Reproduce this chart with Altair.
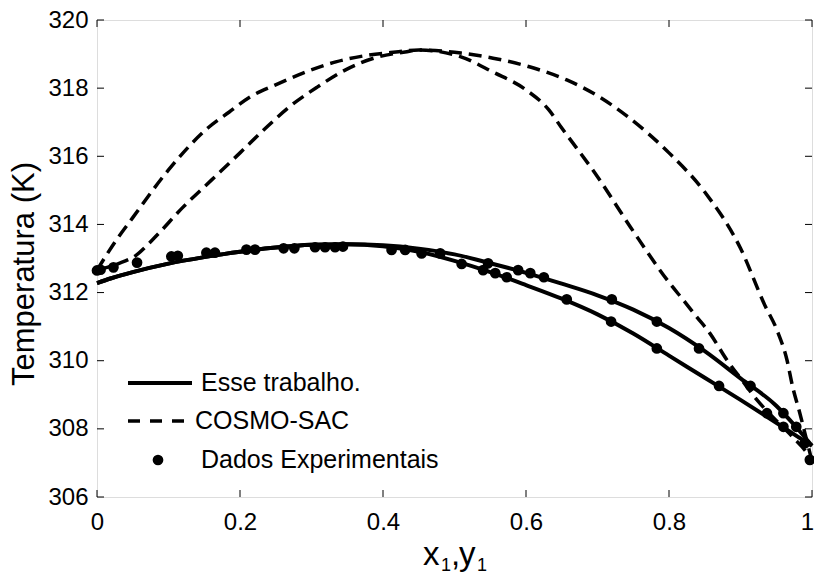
import altair as alt
import pandas as pd

# ---- dados ---------------------------------------------------------------
# Esse trabalho: curva de bolha (T-x) e curva de orvalho (T-y)
modelo_comp = [0.00, 0.02, 0.05, 0.10, 0.15, 0.20, 0.25, 0.30, 0.35, 0.40,
               0.45, 0.50, 0.55, 0.60, 0.65, 0.70, 0.75, 0.80, 0.85, 0.90,
               0.95, 0.975, 1.00]
modelo_T_bolha = [312.28, 312.42, 312.60, 312.85, 313.04, 313.20, 313.32, 313.40,
                  313.42, 313.36, 313.20, 312.93, 312.60, 312.22, 311.82, 311.36,
                  310.80, 310.15, 309.50, 308.85, 308.18, 307.84, 307.50]
modelo_T_orvalho = [312.28, 312.42, 312.60, 312.85, 313.04, 313.20, 313.32, 313.40,
                    313.42, 313.39, 313.29, 313.12, 312.86, 312.58, 312.26, 311.92,
                    311.50, 310.96, 310.28, 309.48, 308.68, 308.12, 307.50]

# COSMO-SAC: curva externa e curva interna
cosmo_ext_comp = [0.000, 0.027, 0.050, 0.100, 0.155, 0.185, 0.214, 0.249, 0.288,
                  0.334, 0.380, 0.418, 0.450, 0.509, 0.554, 0.606, 0.657, 0.703,
                  0.743, 0.800, 0.850, 0.900, 0.934, 0.951, 0.965, 0.973, 0.983,
                  0.990, 1.000]
cosmo_ext_T = [312.66, 313.54, 314.20, 315.60, 316.83, 317.30, 317.74, 318.09, 318.44,
               318.77, 318.97, 319.06, 319.12, 319.03, 318.88, 318.62, 318.24, 317.74,
               317.15, 316.10, 314.95, 313.30, 311.63, 310.90, 310.02, 309.23, 308.46,
               307.88, 307.05]
cosmo_int_comp = [0.000, 0.030, 0.055, 0.080, 0.120, 0.160, 0.200, 0.236, 0.269,
                  0.308, 0.347, 0.392, 0.431, 0.450, 0.509, 0.554, 0.600, 0.632,
                  0.649, 0.700, 0.750, 0.800, 0.820, 0.839, 0.857, 0.881, 0.902,
                  0.923, 0.945, 0.973, 0.993, 1.000]
cosmo_int_T = [312.66, 312.85, 313.10, 313.60, 314.50, 315.30, 316.10, 316.83, 317.45,
               318.03, 318.53, 318.91, 319.06, 319.12, 318.92, 318.47, 317.95, 317.36,
               316.86, 315.40, 313.80, 312.30, 311.78, 311.28, 310.81, 310.02, 309.43,
               308.85, 308.35, 307.76, 307.29, 307.05]

# Dados experimentais (x1 e y1 com a temperatura correspondente)
exp_comp = [0.000, 0.005, 0.023, 0.056, 0.104, 0.113, 0.153, 0.165, 0.209, 0.221,
            0.261, 0.276, 0.305, 0.319, 0.333, 0.344, 0.412, 0.431, 0.454, 0.480,
            0.510, 0.547, 0.540, 0.589, 0.557, 0.606, 0.573, 0.625, 0.657, 0.720,
            0.719, 0.783, 0.783, 0.842, 0.870, 0.914, 0.937, 0.960, 0.960, 0.978,
            0.990, 0.997]
exp_T = [312.65, 312.67, 312.74, 312.88, 313.06, 313.08, 313.17, 313.17, 313.26, 313.26,
         313.30, 313.30, 313.33, 313.33, 313.33, 313.35, 313.25, 313.25, 313.15, 313.15,
         312.84, 312.86, 312.66, 312.66, 312.57, 312.57, 312.45, 312.45, 311.80, 311.80,
         311.15, 311.15, 310.36, 310.36, 309.26, 309.26, 308.46, 308.46, 308.06, 308.06,
         307.58, 307.09]

x_ticks = [0, 0.2, 0.4, 0.6, 0.8, 1]
y_ticks = [306, 308, 310, 312, 314, 316, 318, 320]

# ---- tabelas ---------------------------------------------------------------
def curva(nome, comp, temp):
    return pd.DataFrame({"comp": comp, "T": temp, "curva": nome,
                         "ordem": list(range(len(comp)))})

modelo_df = pd.concat([curva("bolha", modelo_comp, modelo_T_bolha),
                       curva("orvalho", modelo_comp, modelo_T_orvalho)])
cosmo_df = pd.concat([curva("externa", cosmo_ext_comp, cosmo_ext_T),
                      curva("interna", cosmo_int_comp, cosmo_int_T)])
exp_df = pd.DataFrame({"comp": exp_comp, "T": exp_T})
xt_df = pd.DataFrame({"v": x_ticks})
yt_df = pd.DataFrame({"v": y_ticks})

W, H = 715, 477
FONT = "Liberation Sans"

xs = alt.Scale(domain=[0, 1], nice=False, zero=False)
ys = alt.Scale(domain=[306, 320], nice=False, zero=False)

x_axis = alt.Axis(values=x_ticks, labelFontSize=24, labelFont=FONT, labelColor="black",
                  ticks=False, tickSize=0, domain=False, grid=False, labelPadding=13,
                  title=None, labelFlush=False,
                  labelOffset={"condition": {"test": "datum.value == 1", "value": -5},
                               "value": 0},
                  labelExpr="datum.value == 0 ? '0' : datum.value == 1 ? '1' : format(datum.value, '.1f')")
y_axis = alt.Axis(values=y_ticks, labelFontSize=24, labelFont=FONT, labelColor="black",
                  ticks=False, tickSize=0, domain=False, grid=False, labelPadding=9,
                  title=None)

X = alt.X("comp:Q", scale=xs, axis=x_axis)
Y = alt.Y("T:Q", scale=ys, axis=y_axis)

modelo = alt.Chart(modelo_df).mark_line(color="black", strokeWidth=4,
                                        interpolate="monotone").encode(
    x=X, y=Y, detail="curva:N", order="ordem:Q")

cosmo = alt.Chart(cosmo_df).mark_line(color="black", strokeWidth=3.5,
                                      strokeDash=[13, 7],
                                      interpolate="monotone").encode(
    x=alt.X("comp:Q", scale=xs), y=alt.Y("T:Q", scale=ys),
    detail="curva:N", order="ordem:Q")

pontos = alt.Chart(exp_df).mark_point(filled=True, color="black", size=115,
                                      opacity=1).encode(
    x=alt.X("comp:Q", scale=xs), y=alt.Y("T:Q", scale=ys))

# marcas de escala internas nos quatro lados
tk = 7
t_baixo = alt.Chart(xt_df).mark_rule(color="black", strokeWidth=1).encode(
    x=alt.X("v:Q", scale=xs), y=alt.value(H), y2=alt.value(H - tk))
t_cima = alt.Chart(xt_df).mark_rule(color="black", strokeWidth=1).encode(
    x=alt.X("v:Q", scale=xs), y=alt.value(0), y2=alt.value(tk))
t_esq = alt.Chart(yt_df).mark_rule(color="black", strokeWidth=1).encode(
    y=alt.Y("v:Q", scale=ys), x=alt.value(0), x2=alt.value(tk))
t_dir = alt.Chart(yt_df).mark_rule(color="black", strokeWidth=1).encode(
    y=alt.Y("v:Q", scale=ys), x=alt.value(W), x2=alt.value(W - tk))

# legenda
LEG = 25
leg_y1, leg_y2, leg_y3 = 363, 401, 440
leg_l1 = alt.Chart().mark_rule(color="black", strokeWidth=4).encode(
    x=alt.value(31), x2=alt.value(95), y=alt.value(leg_y1))
leg_l2 = alt.Chart().mark_rule(color="black", strokeWidth=3.5, strokeDash=[12, 10]).encode(
    x=alt.value(31), x2=alt.value(88), y=alt.value(leg_y2))
leg_p = alt.Chart().mark_point(filled=True, color="black", size=115, opacity=1).encode(
    x=alt.value(61), y=alt.value(leg_y3))
leg_t1 = alt.Chart().mark_text(text="Esse trabalho.", font=FONT, fontSize=LEG,
                               align="left", baseline="middle", color="black").encode(
    x=alt.value(104), y=alt.value(leg_y1))
leg_t2 = alt.Chart().mark_text(text="COSMO-SAC", font=FONT, fontSize=LEG,
                               align="left", baseline="middle", color="black").encode(
    x=alt.value(98), y=alt.value(leg_y2))
leg_t3 = alt.Chart().mark_text(text="Dados Experimentais", font=FONT, fontSize=LEG,
                               align="left", baseline="middle", color="black").encode(
    x=alt.value(104), y=alt.value(leg_y3))

# títulos dos eixos
titulo_y = alt.Chart().mark_text(text="Temperatura (K)", font=FONT, fontSize=31,
                                 angle=270, align="center", baseline="middle",
                                 color="black").encode(
    x=alt.value(-72), y=alt.value(254))

def peca(txt, px, py, size):
    return alt.Chart().mark_text(text=txt, font=FONT, fontSize=size, align="left",
                                 baseline="alphabetic", color="black").encode(
        x=alt.value(px), y=alt.value(py))

titulo_x = [peca("x", 326, 545, 33), peca("1", 344, 551, 18), peca(",", 354, 545, 33),
            peca("y", 362, 545, 33), peca("1", 380, 551, 18)]

chart = alt.layer(
    t_baixo, t_cima, t_esq, t_dir, modelo, cosmo, pontos,
    leg_l1, leg_l2, leg_p, leg_t1, leg_t2, leg_t3, titulo_y, *titulo_x
).properties(
    width=W, height=H,
    autosize=alt.AutoSizeParams(type="none"),
    padding={"left": 97, "top": 20, "right": 2, "bottom": 77},
).configure_view(
    stroke="black", strokeWidth=1
).configure(background="white")

chart.save("out.html", embed_options={"renderer": "svg", "actions": False})
